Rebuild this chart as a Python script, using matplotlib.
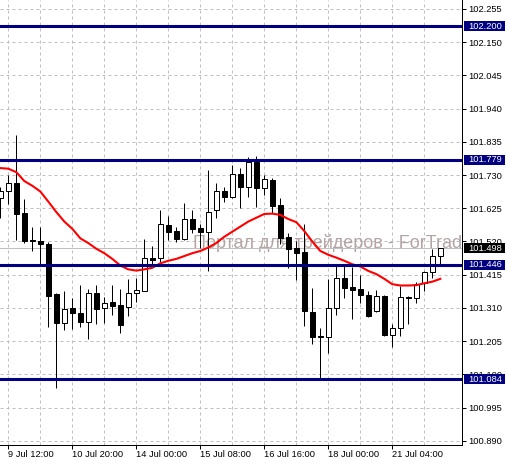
import matplotlib
matplotlib.use('Agg')
import matplotlib.pyplot as plt
import matplotlib.transforms as mtransforms
from matplotlib.patches import Rectangle
import numpy as np


# H4 candles
opens = [101.658, 101.681, 101.704, 101.609, 101.525, 101.522, 101.512, 101.353, 101.262, 101.310,
         101.294, 101.267, 101.357, 101.311, 101.329, 101.320, 101.314, 101.357, 101.365, 101.467,
         101.467, 101.572, 101.554, 101.528, 101.590, 101.562, 101.549, 101.619, 101.678, 101.660,
         101.733, 101.692, 101.772, 101.688, 101.715, 101.636, 101.534, 101.499, 101.488, 101.297,
         101.222, 101.218, 101.309, 101.404, 101.375, 101.370, 101.351, 101.299, 101.348, 101.223,
         101.246, 101.344, 101.341, 101.388, 101.425, 101.475]
highs = [101.693, 101.730, 101.857, 101.655, 101.566, 101.566, 101.518, 101.357, 101.364, 101.342,
         101.383, 101.370, 101.383, 101.345, 101.381, 101.370, 101.402, 101.404, 101.528, 101.506,
         101.620, 101.602, 101.566, 101.642, 101.620, 101.575, 101.746, 101.704, 101.692, 101.762,
         101.752, 101.786, 101.790, 101.730, 101.722, 101.657, 101.546, 101.520, 101.576, 101.372,
         101.248, 101.402, 101.441, 101.441, 101.439, 101.414, 101.365, 101.368, 101.350, 101.260,
         101.378, 101.348, 101.391, 101.427, 101.497, 101.499]
lows = [101.595, 101.639, 101.525, 101.515, 101.490, 101.446, 101.251, 101.058, 101.239, 101.245,
        101.251, 101.213, 101.260, 101.261, 101.288, 101.232, 101.285, 101.330, 101.362, 101.446,
        101.456, 101.525, 101.518, 101.525, 101.548, 101.501, 101.428, 101.594, 101.646, 101.657,
        101.627, 101.660, 101.630, 101.667, 101.611, 101.511, 101.436, 101.399, 101.253, 101.195,
        101.088, 101.169, 101.288, 101.343, 101.275, 101.327, 101.281, 101.296, 101.220, 101.188,
        101.220, 101.260, 101.325, 101.365, 101.406, 101.449]
closes = [101.680, 101.704, 101.608, 101.520, 101.520, 101.513, 101.349, 101.261, 101.307, 101.293,
          101.265, 101.357, 101.308, 101.325, 101.317, 101.256, 101.357, 101.366, 101.467, 101.463,
          101.575, 101.551, 101.528, 101.590, 101.561, 101.549, 101.614, 101.678, 101.660, 101.733,
          101.692, 101.771, 101.688, 101.717, 101.633, 101.532, 101.497, 101.485, 101.299, 101.218,
          101.218, 101.309, 101.404, 101.374, 101.368, 101.350, 101.285, 101.347, 101.225, 101.246,
          101.344, 101.341, 101.385, 101.425, 101.475, 101.498]
ma = [101.752, 101.750, 101.739, 101.711, 101.696, 101.678, 101.646, 101.613, 101.583, 101.560,
      101.530, 101.515, 101.497, 101.483, 101.465, 101.444, 101.432, 101.428, 101.432, 101.437,
      101.451, 101.459, 101.465, 101.474, 101.483, 101.490, 101.501, 101.515, 101.535, 101.551,
      101.567, 101.583, 101.595, 101.607, 101.608, 101.604, 101.591, 101.581, 101.553, 101.520,
      101.490, 101.478, 101.469, 101.459, 101.448, 101.441, 101.427, 101.417, 101.402, 101.385,
      101.381, 101.381, 101.382, 101.388, 101.393, 101.402]

levels = [102.200, 101.779, 101.446, 101.084]
last_price = 101.498
price_ticks = [102.255, 102.150, 102.045, 101.940, 101.835, 101.730, 101.625,
               101.520, 101.415, 101.310, 101.205, 101.100, 100.995, 100.890]
date_ticks = [1, 9, 17, 25, 33, 41, 49]
date_labels = ['9 Jul 12:00', '10 Jul 20:00', '14 Jul 00:00', '15 Jul 08:00',
               '16 Jul 16:00', '18 Jul 00:00', '21 Jul 04:00']

plt.rcParams['font.family'] = ['Liberation Sans', 'DejaVu Sans']

fig = plt.figure(figsize=(5.09, 4.65), dpi=100)
ax = fig.add_axes([0, 20 / 465, 462 / 509, 445 / 465])
ax.set_xlim(-0.04, 57.71)
ax.set_ylim(100.877, 102.283)

# grid
ax.set_yticks(price_ticks)
ax.set_yticklabels(['%.3f' % p for p in price_ticks])
ax.set_xticks(date_ticks)
ax.set_xticklabels(date_labels)
ax.set_xticks(np.arange(1, 56, 4), minor=True)
for lbl in ax.get_xticklabels():
    lbl.set_horizontalalignment('left')
ax.grid(True, which='both', color='#c0c0c0', linestyle=(0, (3, 3)), linewidth=0.72)
ax.set_axisbelow(True)

ax.yaxis.tick_right()
ax.tick_params(axis='y', length=2.9, width=0.72, pad=1.5, labelsize=6.7)
ax.tick_params(axis='x', which='major', length=2.9, width=0.72, pad=0.5, labelsize=6.7)
ax.tick_params(axis='x', which='minor', length=0)
for s in ['top', 'left']:
    ax.spines[s].set_visible(False)
for s in ['right', 'bottom']:
    ax.spines[s].set_linewidth(0.72)

# watermark
ax.text(193 / 462, last_price + 0.016, 'Портал для трейдеров - ForTrader.org',
        transform=mtransforms.blended_transform_factory(ax.transAxes, ax.transData),
        fontsize=13, color='#b4a4a4', va='center', ha='left', clip_on=True, zorder=1)

ax.axhline(last_price, color='#c0c0c0', linewidth=0.72, zorder=1.5)

# candles
x = np.arange(len(opens))
ax.vlines(x, lows, highs, color='black', linewidth=0.72, zorder=2)
for i in range(len(opens)):
    o, c = opens[i], closes[i]
    fc = 'white' if c > o else 'black'
    ax.bar(x[i], abs(c - o), bottom=min(o, c), width=0.55, color=fc,
           edgecolor='black', linewidth=0.72, zorder=3)

ax.plot(x, ma, color='red', linewidth=1.5, zorder=4)

for lv in levels:
    ax.axhline(lv, color='#000080', linewidth=2.2, zorder=5)

# price labels on the right axis
trans = mtransforms.blended_transform_factory(ax.transAxes, ax.transData)
box_h = 0.0316
for lv, bg in [(l, '#000080') for l in levels] + [(last_price, 'black')]:
    ax.add_patch(Rectangle((464 / 462, lv - box_h / 2), 41 / 462, box_h, transform=trans,
                           facecolor=bg, edgecolor='none', clip_on=False, zorder=6))
    ax.text(468 / 462, lv, '%.3f' % lv, transform=trans, color='white', fontsize=6.7,
            va='center', ha='left', clip_on=False, zorder=7)

fig.savefig('out.png', dpi=100)
